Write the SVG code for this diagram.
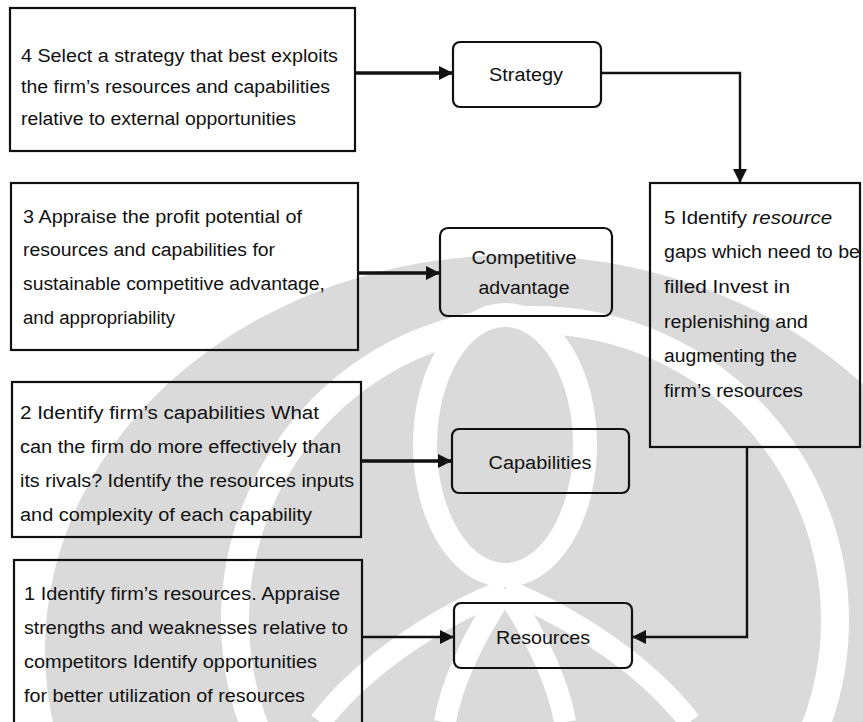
<svg xmlns="http://www.w3.org/2000/svg" width="863" height="722" viewBox="0 0 863 722">
  <defs>
    <style>
      .box { fill: none; stroke: #111; stroke-width: 2.2; }
      .t { font-family: "Liberation Sans", Arial, sans-serif; font-size: 18px; fill: #111; }
      .c { text-anchor: middle; }
      .wire { fill: none; stroke: #111; stroke-width: 2.4; }
      .thick { stroke-width: 3.6; }
      .wm { fill: #dadada; }
      .wmw { fill: none; stroke: #fff; }
    </style>
    <marker id="ah" markerUnits="userSpaceOnUse" markerWidth="16" markerHeight="16" refX="14" refY="7" orient="auto">
      <path d="M0,0 L14,7 L0,14 Z" fill="#111"/>
    </marker>
  </defs>
  <rect width="863" height="722" fill="#fff"/>

  <g id="watermark">
    <ellipse cx="515" cy="650" rx="470" ry="395" class="wm"/>
    <circle cx="535" cy="620" r="300" class="wmw" stroke-width="28"/>
    <ellipse cx="505" cy="445" rx="80" ry="130" class="wm" stroke="#fff" stroke-width="24"/>
    <path class="wmw" stroke-width="22" d="M505,590 C430,620 360,670 320,722 M505,590 C580,620 650,670 690,722 M505,590 C470,640 450,690 445,722 M505,590 C540,640 560,690 565,722"/>
  </g>

  <g id="n4">
    <rect class="box" x="10" y="8" width="345" height="143"/>
    <text class="t" x="21" y="62" textLength="317" lengthAdjust="spacingAndGlyphs">4  Select a strategy that best exploits</text>
    <text class="t" x="21" y="93" textLength="309" lengthAdjust="spacingAndGlyphs">the firm’s resources and capabilities</text>
    <text class="t" x="21" y="125" textLength="275" lengthAdjust="spacingAndGlyphs">relative to external opportunities</text>
  </g>

  <g id="n3">
    <rect class="box" x="11" y="183" width="347" height="167"/>
    <text class="t" x="23" y="223" textLength="279" lengthAdjust="spacingAndGlyphs">3  Appraise the profit potential of</text>
    <text class="t" x="23" y="256" textLength="252" lengthAdjust="spacingAndGlyphs">resources and capabilities for</text>
    <text class="t" x="23" y="290" textLength="302" lengthAdjust="spacingAndGlyphs">sustainable competitive advantage,</text>
    <text class="t" x="23" y="324" textLength="152" lengthAdjust="spacingAndGlyphs">and appropriability</text>
  </g>

  <g id="n2">
    <rect class="box" x="12" y="382" width="349" height="155"/>
    <text class="t" x="20" y="419" textLength="299" lengthAdjust="spacingAndGlyphs">2  Identify firm’s capabilities  What</text>
    <text class="t" x="20" y="453" textLength="321" lengthAdjust="spacingAndGlyphs">can the firm do more effectively than</text>
    <text class="t" x="20" y="487" textLength="334" lengthAdjust="spacingAndGlyphs">its rivals? Identify the resources inputs</text>
    <text class="t" x="20" y="521" textLength="292" lengthAdjust="spacingAndGlyphs">and complexity of each capability</text>
  </g>

  <g id="n1">
    <rect class="box" x="14" y="560" width="348" height="180"/>
    <text class="t" x="24" y="600" textLength="316" lengthAdjust="spacingAndGlyphs">1  Identify firm’s resources. Appraise</text>
    <text class="t" x="24" y="634" textLength="324" lengthAdjust="spacingAndGlyphs">strengths and weaknesses relative to</text>
    <text class="t" x="24" y="668" textLength="293" lengthAdjust="spacingAndGlyphs">competitors  Identify opportunities</text>
    <text class="t" x="24" y="702" textLength="281" lengthAdjust="spacingAndGlyphs">for better utilization of resources</text>
  </g>

  <g id="n5">
    <rect class="box" x="650" y="183" width="210" height="264"/>
    <text class="t" x="664" y="224" textLength="168" lengthAdjust="spacingAndGlyphs">5  Identify <tspan font-style="italic">resource</tspan></text>
    <text class="t" x="664" y="258" textLength="196" lengthAdjust="spacingAndGlyphs">gaps which need to be</text>
    <text class="t" x="664" y="293" textLength="126" lengthAdjust="spacingAndGlyphs">filled  Invest in</text>
    <text class="t" x="664" y="328" textLength="144" lengthAdjust="spacingAndGlyphs">replenishing and</text>
    <text class="t" x="664" y="362" textLength="133" lengthAdjust="spacingAndGlyphs">augmenting the</text>
    <text class="t" x="664" y="397" textLength="139" lengthAdjust="spacingAndGlyphs">firm’s resources</text>
  </g>

  <g id="strategy">
    <rect class="box" x="453" y="42" width="148" height="65" rx="7"/>
    <text class="t c" x="526" y="81" textLength="74" lengthAdjust="spacingAndGlyphs">Strategy</text>
  </g>

  <g id="competitive-advantage">
    <rect class="box" x="440" y="228" width="172" height="88" rx="8"/>
    <text class="t c" x="524" y="264" textLength="105" lengthAdjust="spacingAndGlyphs">Competitive</text>
    <text class="t c" x="524" y="294" textLength="91" lengthAdjust="spacingAndGlyphs">advantage</text>
  </g>

  <g id="capabilities">
    <rect class="box" x="452" y="429" width="177" height="64" rx="7"/>
    <text class="t c" x="540" y="469" textLength="103" lengthAdjust="spacingAndGlyphs">Capabilities</text>
  </g>

  <g id="resources">
    <rect class="box" x="454" y="603" width="178" height="65" rx="7"/>
    <text class="t c" x="543" y="644" textLength="94" lengthAdjust="spacingAndGlyphs">Resources</text>
  </g>

  <g id="connectors">
    <path class="wire thick" d="M355,73 H453" marker-end="url(#ah)"/>
    <path class="wire" d="M601,73 H740 V183" marker-end="url(#ah)"/>
    <path class="wire thick" d="M358,273 H440" marker-end="url(#ah)"/>
    <path class="wire thick" d="M361,461 H452" marker-end="url(#ah)"/>
    <path class="wire" d="M362,637 H454" marker-end="url(#ah)"/>
    <path class="wire" d="M747,447 V637 H632" marker-end="url(#ah)"/>
  </g>
</svg>
